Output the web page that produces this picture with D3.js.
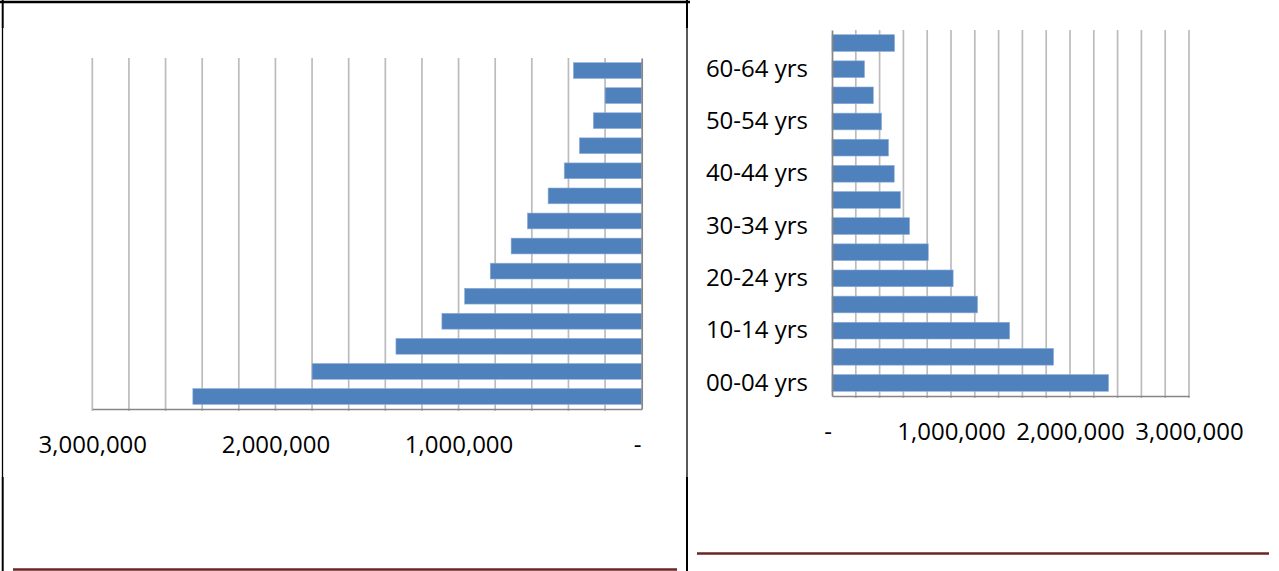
<!DOCTYPE html>
<html>
<head>
<meta charset="utf-8">
<script src="https://cdn.jsdelivr.net/npm/d3@7"></script>
<style>
  html, body { margin: 0; padding: 0; background: #fff; }
  svg { display: block; }
  text { font-family: "Open Sans", "Liberation Sans", sans-serif; }
</style>
</head>
<body>
<svg id="chart" width="1279" height="571"></svg>
<script>
// ---- Data ----
const categories = ["00-04 yrs","05-09 yrs","10-14 yrs","15-19 yrs","20-24 yrs","25-29 yrs","30-34 yrs",
                    "35-39 yrs","40-44 yrs","45-49 yrs","50-54 yrs","55-59 yrs","60-64 yrs","65+ yrs"];
const leftValues  = [2451000,1800000,1342000,1091000,967000,827000,713000,624000,511000,423000,340000,264000,200000,373000];
const rightValues = [2324000,1862000,1493000,1223000,1018000,809000,652000,575000,523000,475000,417000,347000,273000,526000];
const tickValues = [0, 1000000, 2000000, 3000000];
const shownLabels = ["00-04 yrs","10-14 yrs","20-24 yrs","30-34 yrs","40-44 yrs","50-54 yrs","60-64 yrs"];
const gridStep = 200000;
const maxValue = 3000000;

const svg = d3.select("#chart");
const BAR = "#4f81bd", GRID = "#bcbcbc", AXIS = "#868686";
const FS = 24;
const fmt = v => v === 0 ? "-" : d3.format(",")(v);
const gridValues = d3.range(0, maxValue + 1, gridStep);
const data = categories.map((c, i) => ({cat: c, left: leftValues[i], right: rightValues[i]}));

function drawChart(g, x, y, key, showCats) {
  const [y0, y1] = y.range();
  // gridlines
  g.append("g").selectAll("line").data(gridValues.filter(v => v !== 0)).join("line")
    .attr("x1", d => x(d)).attr("x2", d => x(d))
    .attr("y1", y0).attr("y2", y1 + 2)
    .attr("stroke", GRID).attr("stroke-width", 1.7);
  // bars
  g.append("g").selectAll("rect").data(data).join("rect")
    .attr("x", d => Math.min(x(0), x(d[key])))
    .attr("width", d => Math.abs(x(d[key]) - x(0)))
    .attr("y", d => y(d.cat))
    .attr("height", y.bandwidth())
    .attr("fill", BAR)
    .attr("stroke", "#8eaedb").attr("stroke-width", 0.6);
  // x axis
  const xa = g.append("g").attr("transform", `translate(0,${y1})`)
    .call(d3.axisBottom(x).tickValues(tickValues).tickFormat(fmt).tickSize(0).tickPadding(27));
  xa.select(".domain").attr("stroke", AXIS).attr("stroke-width", 1.7);
  xa.selectAll("text").attr("font-size", FS).attr("fill", "#000")
    .attr("dx", d => d === 0 ? -4.5 : 0);
  // category axis line
  const ya = g.append("g").attr("transform", `translate(${x(0)},0)`)
    .call((x(0) > x(maxValue) ? d3.axisRight(y) : d3.axisLeft(y))
      .tickValues(showCats ? shownLabels : []).tickSize(0).tickPadding(24).tickSizeOuter(0));
  ya.select(".domain").attr("stroke", AXIS).attr("stroke-width", 1.7);
  ya.selectAll("text").attr("font-size", FS).attr("fill", "#000");
}

// Left chart
const xL = d3.scaleLinear().domain([0, maxValue]).range([641.7, 92.3]);
const yL = d3.scaleBand().domain(categories.slice().reverse()).range([58, 409])
  .paddingInner(0.37).paddingOuter(0.185);
drawChart(svg.append("g"), xL, yL, "left", false);

// Right chart
const xR = d3.scaleLinear().domain([0, maxValue]).range([832, 1189]);
const yR = d3.scaleBand().domain(categories.slice().reverse()).range([30, 396])
  .paddingInner(0.36).paddingOuter(0.18);
drawChart(svg.append("g"), xR, yR, "right", true);

// Page/table borders
const borders = svg.append("g").attr("stroke", "#000");
borders.append("line").attr("x1", 0).attr("x2", 690).attr("y1", 2).attr("y2", 2).attr("stroke-width", 2.5);
borders.append("line").attr("x1", 2.7).attr("x2", 2.7).attr("y1", 0).attr("y2", 28).attr("stroke-width", 2);
borders.append("line").attr("x1", 2.5).attr("x2", 2.5).attr("y1", 28).attr("y2", 477).attr("stroke-width", 1.3);
borders.append("line").attr("x1", 2.7).attr("x2", 2.7).attr("y1", 477).attr("y2", 571).attr("stroke-width", 2);
borders.append("line").attr("x1", 687).attr("x2", 687).attr("y1", 0).attr("y2", 28).attr("stroke-width", 2);
borders.append("line").attr("x1", 687).attr("x2", 687).attr("y1", 28).attr("y2", 477).attr("stroke-width", 1.3);
borders.append("line").attr("x1", 687).attr("x2", 687).attr("y1", 477).attr("y2", 571).attr("stroke-width", 2);
// brown rules
svg.append("line").attr("x1", 13).attr("x2", 677).attr("y1", 569.5).attr("y2", 569.5)
  .attr("stroke", "#6b2524").attr("stroke-width", 2.5);
svg.append("line").attr("x1", 697).attr("x2", 1269).attr("y1", 553.5).attr("y2", 553.5)
  .attr("stroke", "#6b2524").attr("stroke-width", 2.5);
</script>
</body>
</html>
